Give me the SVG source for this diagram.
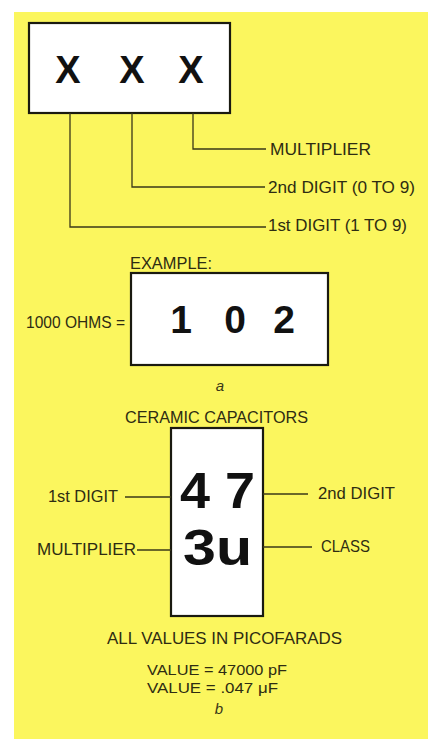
<svg xmlns="http://www.w3.org/2000/svg" width="432" height="739" viewBox="0 0 432 739">
<style>
.lbl{font-family:"Liberation Sans",Arial,sans-serif;font-size:17px;fill:#2e2c12}
.val{font-size:15px}
.big{font-family:"Liberation Sans",Arial,sans-serif;font-weight:bold;fill:#111}
.cap{font-family:"Liberation Sans",Arial,sans-serif;font-style:italic;font-size:15px;fill:#3a3818}
.box{fill:#fff;stroke:#1a1a10;stroke-width:2.2}
.ln{stroke:#3a3818;stroke-width:1.3;fill:none}
</style>
<rect width="432" height="739" fill="#fff"/>
<rect x="14" y="12" width="414" height="727" fill="#fbf65e"/>

<g id="code-box">
<rect class="box" x="29" y="23" width="201" height="90"/>
<text class="big" font-size="38" x="68" y="83" text-anchor="middle">X</text>
<text class="big" font-size="38" x="132" y="83" text-anchor="middle">X</text>
<text class="big" font-size="38" x="191" y="83" text-anchor="middle">X</text>
</g>
<g id="label-multiplier"><text class="lbl" x="270" y="155" textLength="101" lengthAdjust="spacingAndGlyphs">MULTIPLIER</text></g>
<g id="label-2nd"><text class="lbl" x="268" y="193" textLength="147" lengthAdjust="spacingAndGlyphs">2nd DIGIT (0 TO 9)</text></g>
<g id="label-1st"><text class="lbl" x="268" y="231" textLength="139" lengthAdjust="spacingAndGlyphs">1st DIGIT (1 TO 9)</text></g>

<g id="example">
<text class="lbl" x="130" y="269" textLength="82" lengthAdjust="spacingAndGlyphs">EXAMPLE:</text>
<text class="lbl" x="26" y="328" textLength="99" lengthAdjust="spacingAndGlyphs">1000 OHMS =</text>
<rect class="box" x="131" y="273" width="197" height="92"/>
<text class="big" font-size="39" x="181" y="333" text-anchor="middle">1</text>
<text class="big" font-size="39" x="235" y="333" text-anchor="middle">0</text>
<text class="big" font-size="39" x="284" y="333" text-anchor="middle">2</text>
<text class="cap" x="220" y="391" text-anchor="middle">a</text>
</g>

<g id="ceramic">
<text class="lbl" x="125" y="423" textLength="183" lengthAdjust="spacingAndGlyphs">CERAMIC CAPACITORS</text>
<rect class="box" x="171" y="428" width="92" height="188"/>
<text class="big" font-size="50" x="180" y="508" textLength="75" lengthAdjust="spacingAndGlyphs">4 7</text>
<text class="big" font-size="50" x="183" y="565" textLength="69" lengthAdjust="spacingAndGlyphs">3u</text>
</g>
<g id="label-c-1st"><text class="lbl" x="48" y="502" textLength="70" lengthAdjust="spacingAndGlyphs">1st DIGIT</text></g>
<g id="label-c-mult"><text class="lbl" x="37" y="555" textLength="99" lengthAdjust="spacingAndGlyphs">MULTIPLIER</text></g>
<g id="label-c-2nd"><text class="lbl" x="318" y="499" textLength="77" lengthAdjust="spacingAndGlyphs">2nd DIGIT</text></g>
<g id="label-c-class"><text class="lbl" x="321" y="552" textLength="49" lengthAdjust="spacingAndGlyphs">CLASS</text></g>

<g id="notes">
<text class="lbl" x="107" y="644" textLength="235" lengthAdjust="spacingAndGlyphs">ALL VALUES IN PICOFARADS</text>
<text class="lbl val" x="147" y="675" textLength="140" lengthAdjust="spacingAndGlyphs">VALUE = 47000 pF</text>
<text class="lbl val" x="147" y="693" textLength="131" lengthAdjust="spacingAndGlyphs">VALUE = .047 μF</text>
<text class="cap" x="219" y="714" text-anchor="middle">b</text>
</g>

<g id="connectors">
<polyline class="ln" points="193,113 193,149 266,149"/>
<polyline class="ln" points="132,113 132,187 265,187"/>
<polyline class="ln" points="70,113 70,227 266,227"/>
<line class="ln" x1="125" y1="497" x2="171" y2="497"/>
<line class="ln" x1="137" y1="550" x2="171" y2="550"/>
<line class="ln" x1="263" y1="494" x2="308" y2="494"/>
<line class="ln" x1="263" y1="547" x2="312" y2="547"/>
</g>
</svg>
